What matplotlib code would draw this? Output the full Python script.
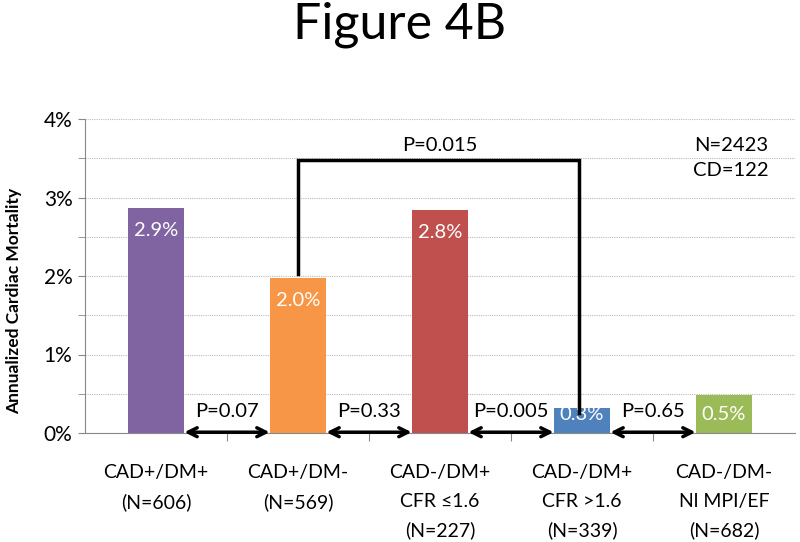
import matplotlib
matplotlib.use("Agg")
import matplotlib.pyplot as plt
from matplotlib.ticker import MultipleLocator, FuncFormatter

plt.rcParams['font.family'] = ['Lato', 'DejaVu Sans']

categories = ["CAD+/DM+\n(N=606)", "CAD+/DM-\n(N=569)", "CAD-/DM+\nCFR \u22641.6\n(N=227)",
              "CAD-/DM+\nCFR >1.6\n(N=339)", "CAD-/DM-\nNl MPI/EF\n(N=682)"]
values = [2.86, 1.97, 2.84, 0.32, 0.48]
value_labels = ["2.9%", "2.0%", "2.8%", "0.3%", "0.5%"]
colors = ["#8064A2", "#F79646", "#C0504D", "#4F81BD", "#9BBB59"]
pair_pvalues = ["P=0.07", "P=0.33", "P=0.005", "P=0.65"]
bracket_pvalue = "P=0.015"
bracket_pair = (1, 3)
summary_text = "N=2423\nCD=122"

fig = plt.figure(figsize=(8, 5.42), dpi=100)
ax = fig.add_axes([85/800, 1-433/542, 710/800, (433-119)/542])

x = list(range(len(categories)))
bw = 0.4
ax.bar(x, values, width=bw, color=colors, zorder=2)

ax.set_xlim(-0.5, len(categories)-0.5)
ax.set_ylim(0, 4)
ax.yaxis.set_major_locator(MultipleLocator(1))
ax.yaxis.set_minor_locator(MultipleLocator(0.5))
ax.yaxis.set_major_formatter(FuncFormatter(lambda v, p: f"{int(round(v))}%"))
ax.grid(axis='y', which='both', color='#BBBBBB', linestyle=(0, (1, 1)), linewidth=0.8, zorder=0)
ax.set_axisbelow(True)
for s in ['top', 'right']:
    ax.spines[s].set_visible(False)
ax.spines['left'].set_color('#888888')
ax.spines['bottom'].set_color('#888888')
ax.tick_params(axis='y', which='both', length=5, color='#888888', labelsize=15, pad=4)
ax.set_xticks([i + 0.5 for i in x[:-1]])
ax.set_xticklabels([])
ax.tick_params(axis='x', length=6, color='#888888')
for i, lab in enumerate(categories):
    ax.text(i, -0.4, lab, ha='center', va='top', fontsize=14, linespacing=1.8,
            transform=ax.transData, clip_on=False)

ax.set_ylabel("Annualized Cardiac Mortality", fontsize=12.5, fontweight='bold', labelpad=10)
ax.yaxis.set_label_coords(-0.088, 0.42)

# value labels
for i, (v, lab) in enumerate(zip(values, value_labels)):
    yc = max(v - 0.28, 0.23)
    ax.text(i, yc, lab, ha='center', va='center', color='white', fontsize=14.5, zorder=5)

# pairwise arrows and p-values
for i, p in enumerate(pair_pvalues):
    ax.annotate("", xy=(i + 1 - bw/2, 0.01), xytext=(i + bw/2, 0.01),
                arrowprops=dict(arrowstyle='<->', lw=2.5, color='black', mutation_scale=16,
                                shrinkA=0, shrinkB=0), zorder=6, annotation_clip=False)
    ax.text(i + 0.5, 0.27, p, ha='center', va='center', fontsize=14.5, zorder=4,
            bbox=dict(facecolor='white', edgecolor='none', pad=3))

# bracket
a, b = bracket_pair
top = 3.48
ax.plot([a, a, b - 0.02, b - 0.02], [values[a] + 0.05, top, top, values[b] - 0.06],
        color='black', lw=2.5, zorder=7, solid_joinstyle='miter')
ax.text((a + b) / 2, top + 0.07, bracket_pvalue, ha='center', va='bottom', fontsize=14.5)

ax.text(4.05, 3.5, summary_text, ha='center', va='center', fontsize=14.5, linespacing=1.55)

fig.text(0.5, 1 - 25/542, "Figure 4B", ha='center', va='center', fontsize=36)

fig.savefig("out.png", dpi=100)
